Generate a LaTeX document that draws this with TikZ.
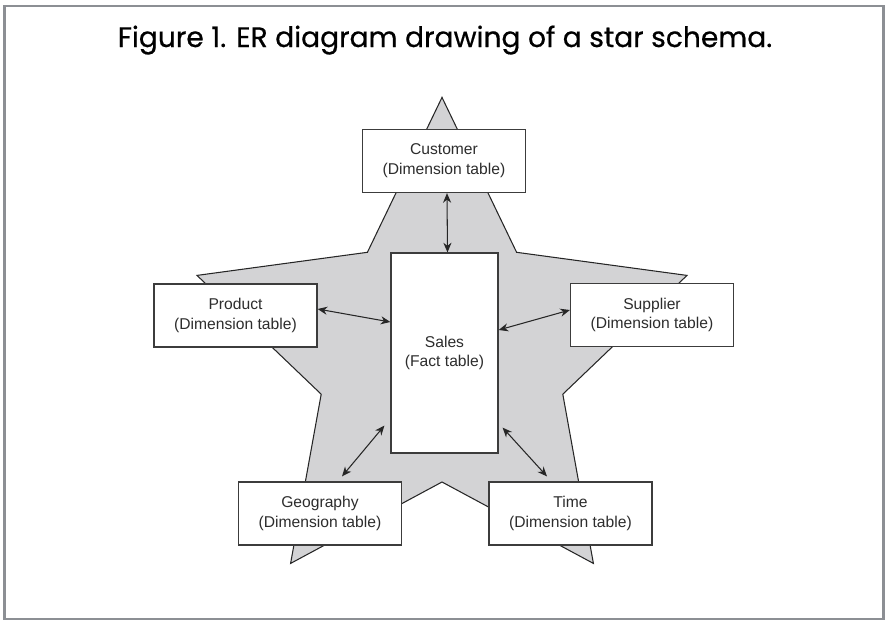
\documentclass[tikz,border=0pt]{standalone}
\usepackage{fontspec}
\setmainfont{Liberation Sans}
\newfontfamily\titlefont[FakeBold=0.6]{Poppins}
\usetikzlibrary{arrows.meta}

\definecolor{framegray}{RGB}{140,143,148}
\definecolor{starfill}{RGB}{211,211,213}
\definecolor{boxline}{RGB}{60,60,60}
\definecolor{textgray}{RGB}{45,45,45}

\tikzset{
  dimbox/.style={draw=boxline, fill=white, line width=0.7pt, minimum width=3.26cm, minimum height=1.26cm,
    align=center, text=textgray, font=\fontsize{8.9}{11.3}\selectfont},
  factbox/.style={dimbox, minimum width=2.14cm, minimum height=4cm},
  link/.style={{Stealth[length=5.5pt,width=4.6pt]}-{Stealth[length=5.5pt,width=4.6pt]}, line width=0.6pt, black!85},
}

\begin{document}
\begin{tikzpicture}[x=0.02cm, y=-0.02cm]
\useasboundingbox (0,0) rectangle (890,626);

% Frame and title
\draw[framegray, line width=1.2pt] (4.5,6) rectangle (883.5,619);
\node[font=\titlefont\fontsize{16}{19}\selectfont, anchor=base] (title) at (445,47) {Figure 1. ER diagram drawing of a star schema.};

% Star in the background
\draw[fill=starfill, draw=black!85, line width=0.6pt]
  (442,97.4) -- (516.6,252.3) -- (687,275.4) -- (562.8,394.2) -- (593.4,563.4)
  -- (442,482) -- (290.6,563.4) -- (321.2,394.2) -- (197,275.4) -- (367.4,252.3) -- cycle;

% Fact table
\node[factbox] (sales) at (444.5,353) {Sales\\(Fact table)};

% Dimension tables
\node[dimbox] (cust) at (444,161) {Customer\\(Dimension table)};
\node[dimbox] (prod) at (235.5,315.5) {Product\\(Dimension table)};
\node[dimbox] (supp) at (652,315) {Supplier\\(Dimension table)};
\node[dimbox] (geo) at (320,513.5) {Geography\\(Dimension table)};
\node[dimbox] (time) at (570.5,513.5) {Time\\(Dimension table)};

% Links
\draw[link] ([xshift=0.06cm]cust.south) -- ([xshift=0.06cm]sales.north);
\draw[link] ([yshift=0.13cm]prod.east) -- ([yshift=0.62cm]sales.west);
\draw[link] ([yshift=0.1cm]supp.west) -- ([yshift=0.46cm]sales.east);
\draw[link] ([shift={(0.44cm,0.1cm)}]geo.north) -- ([shift={(-0.12cm,0.56cm)}]sales.south west);
\draw[link] ([shift={(0.08cm,0.52cm)}]sales.south east) -- ([shift={(-0.47cm,0.1cm)}]time.north);

\end{tikzpicture}
\end{document}
